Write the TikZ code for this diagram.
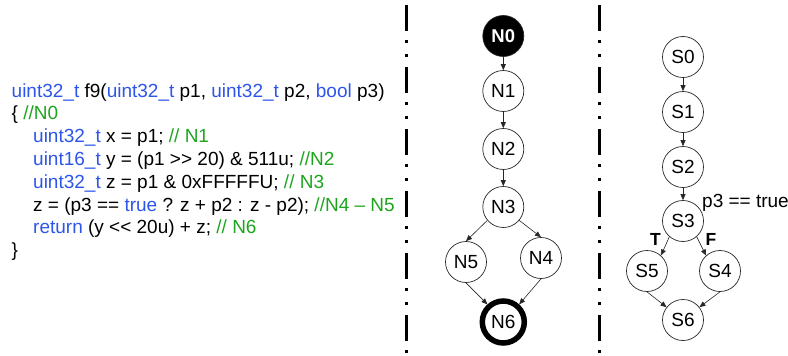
\documentclass[tikz,border=0pt]{standalone}
\usepackage{fontspec}
\setmainfont{Liberation Sans}
\usetikzlibrary{arrows.meta}
\definecolor{codeblue}{RGB}{45,85,235}
\definecolor{codegreen}{RGB}{30,165,30}
\newcommand{\kw}[1]{\textcolor{codeblue}{#1}}
\newcommand{\cm}[1]{\textcolor{codegreen}{#1}}
\begin{document}
\begin{tikzpicture}[x=1pt,y=-1pt,
  codeline/.style={anchor=base west, inner sep=0pt, font=\fontsize{19}{23}\selectfont},
  state/.style={circle, draw=black!85, line width=0.7pt, minimum size=41pt, inner sep=0pt, font=\fontsize{19}{22}\selectfont},
  startstate/.style={state, fill=black, text=white, font=\fontsize{18.5}{22}\selectfont\bfseries},
  endstate/.style={state, line width=5.5pt, draw=black, minimum size=42pt},
  flow/.style={draw=black!85, line width=0.6pt, -{Triangle[length=6pt,width=5pt]}},
  divider/.style={line width=3pt, dash pattern=on 26pt off 9pt on 3pt off 11pt on 3pt off 10pt},
  branch/.style={font=\fontsize{17.5}{20}\selectfont\bfseries, inner sep=0pt, anchor=base},
  cond/.style={font=\fontsize{19}{23}\selectfont, inner sep=0pt, anchor=base west}]
\useasboundingbox (0,0) rectangle (788,356);

% code listing
\node[codeline] (c1) at (11.5,97) {\kw{uint32\_t} f9(\kw{uint32\_t} p1, \kw{uint32\_t} p2, \kw{bool} p3)};
\node[codeline] (c2) at (11.5,119.8) {\{ \cm{//N0}};
\node[codeline] (c3) at (33,142.6) {\kw{uint32\_t} x = p1; \cm{// N1}};
\node[codeline] (c4) at (33,165.4) {\kw{uint16\_t} y = (p1 >\kern0pt> 20) \& 511u; \cm{//N2}};
\node[codeline] (c5) at (33,188.2) {\kw{uint32\_t} z = p1 \& 0xFFFFFU; \cm{// N3}};
\node[codeline] (c6) at (33,211) {z = (p3 == \kw{true} ? z + p2 : z - p2); \cm{//N4 – N5}};
\node[codeline] (c7) at (33,233.8) {\kw{return} (y <\kern0pt< 20u) + z; \cm{// N6}};
\node[codeline] (c8) at (11.5,256.6) {\}};

% dividers
\draw[divider] (406.5,5) -- (406.5,356);
\draw[divider] (599,5) -- (599,356);

% N graph
\node[startstate] (N0) at (503.3,36) {N0};
\node[state] (N1) at (503.3,91) {N1};
\node[state] (N2) at (503.3,149) {N2};
\node[state] (N3) at (503.3,207) {N3};
\node[state] (N5) at (466,262) {N5};
\node[state] (N4) at (541,258) {N4};
\node[endstate] (N6) at (503.3,322) {N6};
\draw[flow] (N0) -- (N1);
\draw[flow] (N1) -- (N2);
\draw[flow] (N2) -- (N3);
\draw[flow] (N3.220) -- (N5.north);
\draw[flow] (N3.320) -- (N4.north);
\draw[flow] (N5.south) -- (N6.132);
\draw[flow] (N4.south) -- (N6.48);

% S graph
\node[state] (S0) at (683,57) {S0};
\node[state] (S1) at (683,112) {S1};
\node[state] (S2) at (683,167) {S2};
\node[state] (S3) at (683,221) {S3};
\node[state] (S5) at (647,271) {S5};
\node[state] (S4) at (720,271) {S4};
\node[state] (S6) at (683,320) {S6};
\draw[flow] (S0) -- (S1);
\draw[flow] (S1) -- (S2);
\draw[flow] (S2) -- (S3);
\draw[flow] (S3.229) -- (S5.48);
\draw[flow] (S3.311) -- (S4.132);
\draw[flow] (S5.south) -- (S6.142);
\draw[flow] (S4.south) -- (S6.38);

\node[cond] (cnd) at (702,207) {p3 == true};
\node[branch] (lt) at (655.5,245) {T};
\node[branch] (lf) at (711,245) {F};
\end{tikzpicture}
\end{document}
